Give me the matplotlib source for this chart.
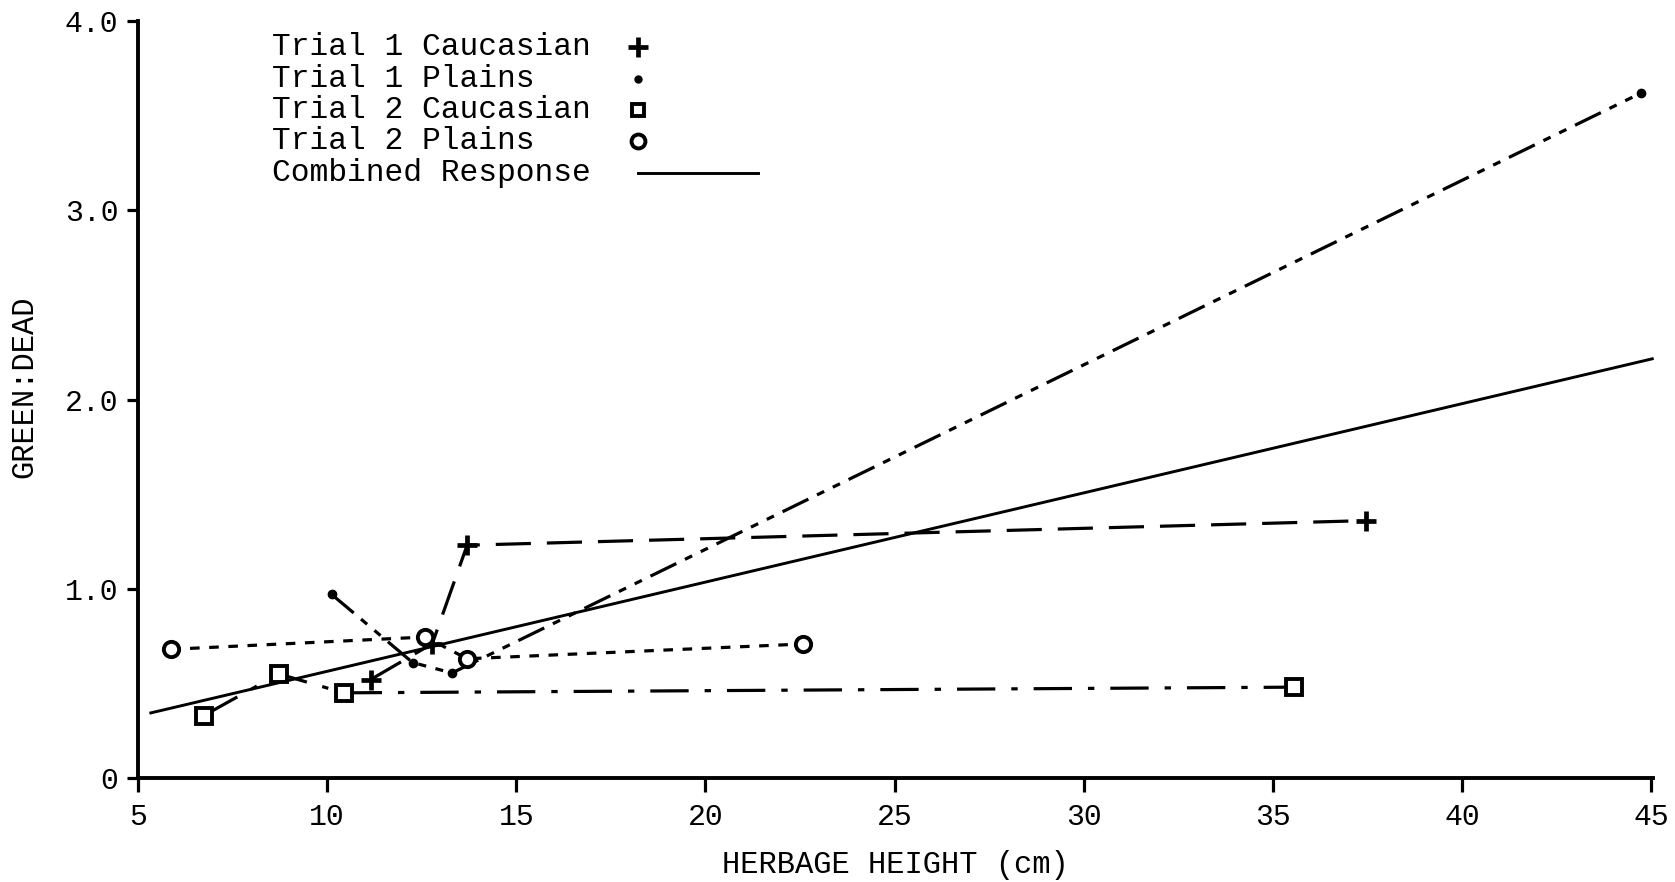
import matplotlib
matplotlib.use("Agg")
import matplotlib.pyplot as plt

# ---------------- data ----------------
t1_cauc_x = [11.15, 12.78, 13.7, 37.45]
t1_cauc_y = [0.52, 0.71, 1.23, 1.36]

t1_plains_x = [10.12, 12.26, 13.3, 44.74]
t1_plains_y = [0.97, 0.61, 0.555, 3.62]

t2_cauc_x = [6.74, 8.72, 10.44, 35.55]
t2_cauc_y = [0.33, 0.55, 0.45, 0.48]

t2_plains_x = [5.87, 12.6, 13.7, 22.57]
t2_plains_y = [0.68, 0.745, 0.63, 0.708]

combined_x = [5.34, 45.03]
combined_y = [0.344, 2.215]

x_ticks = [5, 10, 15, 20, 25, 30, 35, 40, 45]
y_ticks = [0, 1.0, 2.0, 3.0, 4.0]
y_tick_labels = ["0", "1.0", "2.0", "3.0", "4.0"]

legend_labels = ["Trial 1 Caucasian", "Trial 1 Plains", "Trial 2 Caucasian",
                 "Trial 2 Plains", "Combined Response"]

# ---------------- style ----------------
FONT = "Liberation Mono"
plt.rcParams["font.family"] = [FONT, "DejaVu Sans Mono"]
FS_TICK = 21.5
FS_LAB = 22
FS_LEG = 22.5

fig = plt.figure(figsize=(16.75, 8.82), dpi=100)
ax = fig.add_axes([138 / 1675, 1 - 778 / 882, (1653 - 138) / 1675, (778 - 21) / 882])

lw = 2.3
ax.plot(t1_cauc_x, t1_cauc_y, color="black", lw=lw, linestyle=(0, (11, 5)),
        marker="+", ms=15, mew=3.4, clip_on=False)
ax.plot(t1_plains_x, t1_plains_y, color="black", lw=lw, linestyle=(0, (9, 3, 2.5, 3, 2.5, 3)),
        marker="o", ms=6, mfc="black", mec="black", clip_on=False)
ax.plot(t2_cauc_x, t2_cauc_y, color="black", lw=lw, linestyle=(0, (12, 5, 2, 5)),
        marker="s", ms=11, mfc="white", mec="black", mew=2.8, clip_on=False)
ax.plot(t2_plains_x, t2_plains_y, color="black", lw=lw, linestyle=(0, (3, 3)),
        marker="o", ms=11, mfc="white", mec="black", mew=2.8, clip_on=False)
ax.plot(combined_x, combined_y, color="black", lw=2.1, linestyle="-", clip_on=False)

ax.set_xlim(5, 45.05)
ax.set_ylim(0, 4.0)
ax.set_xticks(x_ticks)
ax.set_xticklabels([str(v) for v in x_ticks])
ax.set_yticks(y_ticks)
ax.set_yticklabels(y_tick_labels)

for s in ["top", "right"]:
    ax.spines[s].set_visible(False)
for s in ["left", "bottom"]:
    ax.spines[s].set_linewidth(2.8)

ax.tick_params(axis="x", direction="out", length=10, width=2.3, pad=8, labelsize=FS_TICK)
ax.tick_params(axis="y", direction="out", length=8, width=2.3, pad=6, labelsize=FS_TICK)

ax.set_xlabel("HERBAGE HEIGHT (cm)", fontsize=FS_LAB, labelpad=14)
ax.set_ylabel("GREEN:DEAD", fontsize=FS_LAB)
ax.yaxis.set_label_coords(-0.0653, 0.5165)

# ---------------- manual legend (text left-aligned, key column on the right) ----------------
leg_text_x = 0.0884
leg_key_x = 0.330
leg_line_end = 0.409
leg_rows = [0.966, 0.924, 0.883, 0.841, 0.799]
key_styles = [
    dict(marker="+", ms=15, mew=3.4, color="black"),
    dict(marker="o", ms=5, mfc="black", mec="black"),
    dict(marker="s", ms=9, mfc="white", mec="black", mew=2.8),
    dict(marker="o", ms=10, mfc="white", mec="black", mew=2.8),
]
for i, lab in enumerate(legend_labels):
    ax.text(leg_text_x, leg_rows[i], lab, transform=ax.transAxes, fontsize=FS_LEG,
            ha="left", va="center")
    if i < 4:
        ax.plot([leg_key_x], [leg_rows[i]], transform=ax.transAxes, linestyle="none",
                clip_on=False, **key_styles[i])
    else:
        ax.plot([leg_key_x, leg_line_end], [leg_rows[i], leg_rows[i]], transform=ax.transAxes,
                color="black", lw=2.1, clip_on=False)

fig.savefig("out.png", dpi=100, facecolor="white")
